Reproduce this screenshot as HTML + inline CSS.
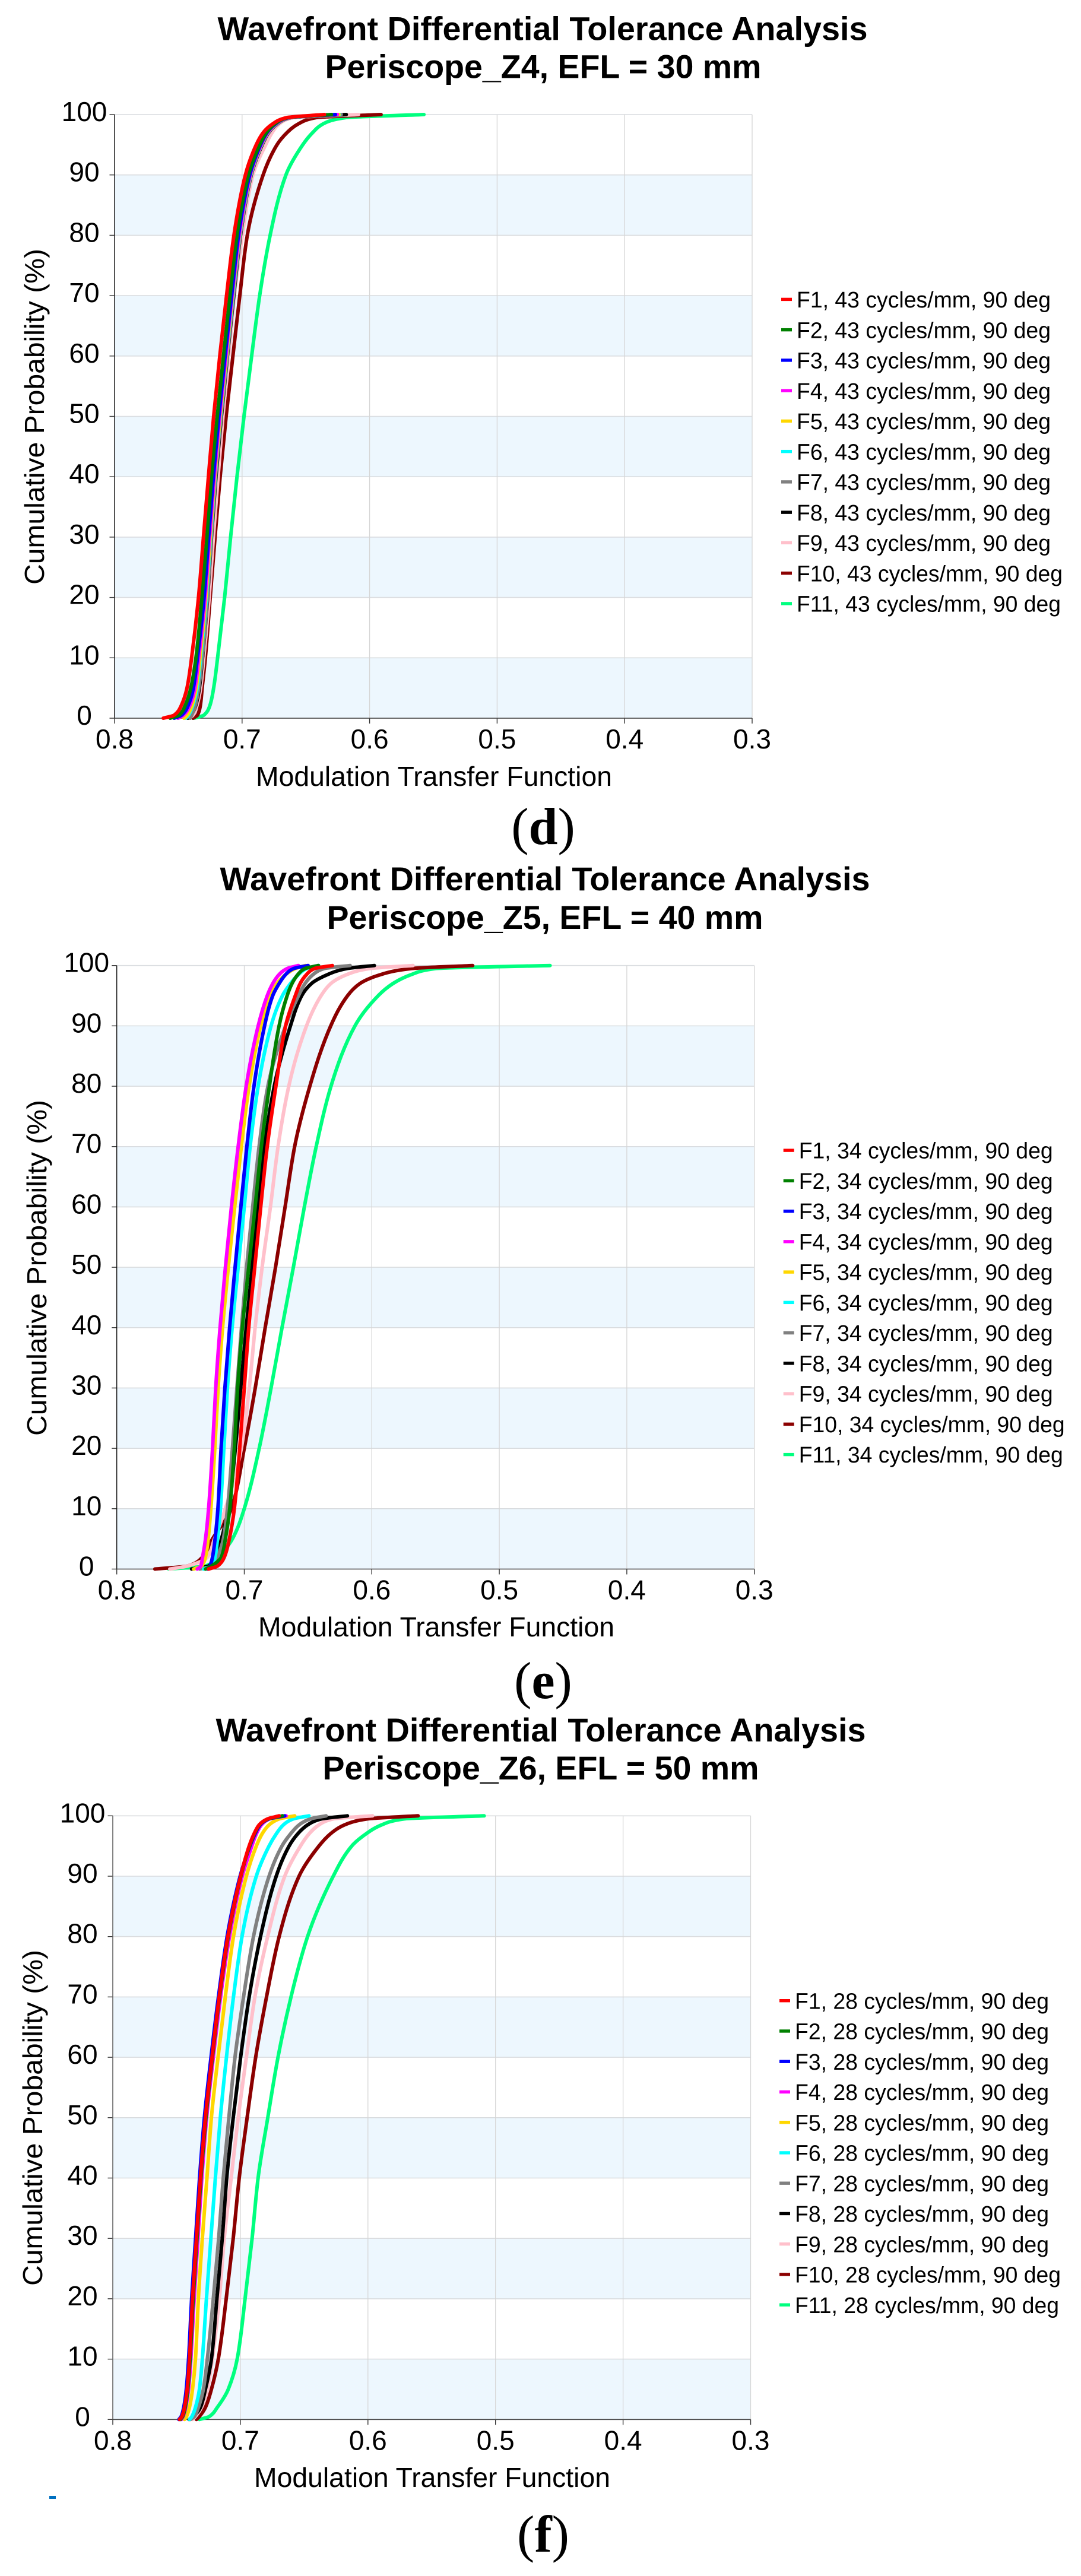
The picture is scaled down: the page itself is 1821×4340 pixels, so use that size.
<!DOCTYPE html>
<html lang="en">
<head>
<meta charset="utf-8">
<title>Wavefront Differential Tolerance Analysis</title>
<style>
html,body{margin:0;padding:0;background:#fff;}
svg{display:block;font-family:"Liberation Sans",Arial,sans-serif;}
.title{font-weight:700;font-size:56px;text-anchor:middle;fill:#000;}
.axis-title{font-size:46px;text-anchor:middle;fill:#000;}
.panel{font-family:"Liberation Serif","Times New Roman",serif;font-size:88px;text-anchor:middle;fill:#000;}
.panel tspan{font-weight:700;}
</style>
</head>
<body>
<svg id="figure" xmlns="http://www.w3.org/2000/svg" width="1821" height="4340" viewBox="0 0 1821 4340">
  <rect x="0" y="0" width="1821" height="4340" fill="#ffffff"/>

  <g id="chart-z4">
    <text class="title" x="914" y="67.5" textLength="1095" lengthAdjust="spacingAndGlyphs">Wavefront Differential Tolerance Analysis</text>
    <text class="title" x="915" y="131.5" textLength="735" lengthAdjust="spacingAndGlyphs">Periscope_Z4, EFL = 30 mm</text>
    <text class="axis-title" transform="translate(74,702) rotate(-90)" x="0" y="0" textLength="566" lengthAdjust="spacingAndGlyphs">Cumulative Probability (%)</text>
    <text class="axis-title" x="731" y="1324" textLength="600" lengthAdjust="spacingAndGlyphs">Modulation Transfer Function</text>
    <text class="panel" x="915" y="1422">(<tspan>d</tspan>)</text>
  </g>

  <g id="chart-z5">
    <text class="title" x="918" y="1500" textLength="1095" lengthAdjust="spacingAndGlyphs">Wavefront Differential Tolerance Analysis</text>
    <text class="title" x="918" y="1565" textLength="735" lengthAdjust="spacingAndGlyphs">Periscope_Z5, EFL = 40 mm</text>
    <text class="axis-title" transform="translate(78,2136) rotate(-90)" x="0" y="0" textLength="566" lengthAdjust="spacingAndGlyphs">Cumulative Probability (%)</text>
    <text class="axis-title" x="735" y="2757" textLength="600" lengthAdjust="spacingAndGlyphs">Modulation Transfer Function</text>
    <text class="panel" x="915" y="2861">(<tspan>e</tspan>)</text>
  </g>

  <g id="chart-z6">
    <text class="title" x="911" y="2934" textLength="1095" lengthAdjust="spacingAndGlyphs">Wavefront Differential Tolerance Analysis</text>
    <text class="title" x="911" y="2998" textLength="735" lengthAdjust="spacingAndGlyphs">Periscope_Z6, EFL = 50 mm</text>
    <text class="axis-title" transform="translate(71,3568) rotate(-90)" x="0" y="0" textLength="566" lengthAdjust="spacingAndGlyphs">Cumulative Probability (%)</text>
    <text class="axis-title" x="728" y="4190" textLength="600" lengthAdjust="spacingAndGlyphs">Modulation Transfer Function</text>
    <rect x="83" y="4205" width="11" height="5" fill="#0070c0"/>
    <text class="panel" x="915" y="4299">(<tspan>f</tspan>)</text>
  </g>
</svg>

<script>
// Shared axis data
const probabilityLevels = [0, 0.5, 2, 5, 10, 20, 30, 40, 50, 60, 70, 80, 90, 95, 97, 98.5, 99.5, 100];
const yTickValues = [0, 10, 20, 30, 40, 50, 60, 70, 80, 90, 100];
const xTickValues = [0.8, 0.7, 0.6, 0.5, 0.4, 0.3];
const xTickLabels = ["0.8", "0.7", "0.6", "0.5", "0.4", "0.3"];
const yTickLabels = ["0", "10", "20", "30", "40", "50", "60", "70", "80", "90", "100"];
const bandStarts = [0, 20, 40, 60, 80];
const seriesColors = ["#ff0000", "#008000", "#0000ff", "#ff00ff", "#ffd700", "#00ffff", "#808080", "#000000", "#ffc0cb", "#8b0000", "#00ff7f"];

// Periscope_Z4 legend and MTF values at probabilityLevels
const z4Legend = ["F1, 43 cycles/mm, 90 deg", "F2, 43 cycles/mm, 90 deg", "F3, 43 cycles/mm, 90 deg", "F4, 43 cycles/mm, 90 deg", "F5, 43 cycles/mm, 90 deg", "F6, 43 cycles/mm, 90 deg", "F7, 43 cycles/mm, 90 deg", "F8, 43 cycles/mm, 90 deg", "F9, 43 cycles/mm, 90 deg", "F10, 43 cycles/mm, 90 deg", "F11, 43 cycles/mm, 90 deg"];
const z4F1 = [.7618, .7533, .7479, .7432, .7396, .7342, .7303, .7264, .7223, .7175, .7122, .7064, .6974, .6889, .6835, .6757, .6648, .6354];
const z4F2 = [.7564, .7495, .7448, .7402, .7362, .7315, .7276, .7240, .7195, .7146, .7095, .7040, .6950, .6862, .6810, .6740, .6640, .6299];
const z4F3 = [.7533, .7475, .7425, .7382, .7350, .7298, .7262, .7225, .7182, .7133, .7082, .7028, .6940, .6855, .6805, .6735, .6635, .6268];
const z4F4 = [.7502, .7460, .7412, .7370, .7340, .7290, .7255, .7218, .7176, .7127, .7078, .7022, .6936, .6850, .6800, .6730, .6630, .6253];
const z4F5 = [.7455, .7430, .7395, .7360, .7330, .7284, .7250, .7214, .7172, .7123, .7075, .7020, .6934, .6848, .6798, .6728, .6628, .6240];
const z4F6 = [.7440, .7420, .7388, .7352, .7325, .7280, .7247, .7212, .7170, .7121, .7072, .7018, .6932, .6846, .6796, .6726, .6626, .6235];
const z4F7 = [.7408, .7395, .7368, .7340, .7312, .7272, .7242, .7208, .7165, .7117, .7068, .7014, .6930, .6845, .6795, .6722, .6620, .6222];
const z4F8 = [.7425, .7400, .7365, .7335, .7310, .7270, .7240, .7205, .7162, .7115, .7065, .7012, .6928, .6842, .6792, .6720, .6618, .6183];
const z4F9 = [.7415, .7385, .7355, .7325, .7300, .7258, .7225, .7188, .7150, .7105, .7060, .6998, .6915, .6815, .6765, .6705, .6600, .6087];
const z4F10 = [.7385, .7350, .7328, .7313, .7288, .7250, .7212, .7172, .7125, .7072, .7018, .6959, .6835, .6726, .6648, .6555, .6416, .5910];
const z4F11 = [.7378, .7300, .7254, .7223, .7192, .7137, .7090, .7040, .6985, .6925, .6862, .6780, .6656, .6524, .6447, .6361, .6183, .5574];

// Periscope_Z5 legend and MTF values at probabilityLevels
const z5Legend = ["F1, 34 cycles/mm, 90 deg", "F2, 34 cycles/mm, 90 deg", "F3, 34 cycles/mm, 90 deg", "F4, 34 cycles/mm, 90 deg", "F5, 34 cycles/mm, 90 deg", "F6, 34 cycles/mm, 90 deg", "F7, 34 cycles/mm, 90 deg", "F8, 34 cycles/mm, 90 deg", "F9, 34 cycles/mm, 90 deg", "F10, 34 cycles/mm, 90 deg", "F11, 34 cycles/mm, 90 deg"];
const z5F1 = [.7280, .7210, .7156, .7117, .7078, .7036, .7000, .6965, .6918, .6871, .6820, .6752, .6676, .6600, .6562, .6512, .6449, .6309];
const z5F2 = [.7304, .7257, .7179, .7148, .7114, .7078, .7052, .7015, .6965, .6915, .6866, .6803, .6727, .6664, .6626, .6580, .6524, .6418];
const z5F3 = [.7288, .7269, .7249, .7229, .7207, .7182, .7152, .7115, .7072, .7027, .6980, .6924, .6841, .6777, .6727, .6676, .6613, .6499];
const z5F4 = [.7369, .7341, .7327, .7304, .7280, .7249, .7224, .7190, .7148, .7101, .7048, .6985, .6891, .6820, .6777, .6727, .6664, .6575];
const z5F5 = [.7397, .7335, .7304, .7283, .7262, .7231, .7205, .7170, .7125, .7075, .7023, .6962, .6871, .6795, .6744, .6676, .6600, .6519];
const z5F6 = [.7319, .7257, .7229, .7210, .7187, .7160, .7132, .7095, .7048, .7000, .6954, .6891, .6790, .6701, .6638, .6575, .6512, .6418];
const z5F7 = [.7350, .7249, .7210, .7164, .7132, .7093, .7058, .7022, .6982, .6934, .6884, .6815, .6676, .6575, .6524, .6461, .6373, .6170];
const z5F8 = [.7413, .7280, .7226, .7179, .7125, .7070, .7028, .6985, .6938, .6891, .6841, .6765, .6638, .6550, .6474, .6347, .6196, .5980];
const z5F9 = [.7584, .7444, .7288, .7234, .7148, .7023, .6961, .6915, .6860, .6795, .6735, .6651, .6512, .6398, .6322, .6196, .6018, .5677];
const z5F10 = [.7701, .7444, .7327, .7249, .7101, .7000, .6914, .6836, .6755, .6680, .6605, .6486, .6322, .6190, .6094, .5930, .5690, .5209];
const z5F11 = [.7592, .7304, .7210, .7093, .7000, .6883, .6790, .6704, .6615, .6529, .6436, .6320, .6132, .5950, .5835, .5690, .5500, .4602];

// Periscope_Z6 legend and MTF values at probabilityLevels
const z6Legend = ["F1, 28 cycles/mm, 90 deg", "F2, 28 cycles/mm, 90 deg", "F3, 28 cycles/mm, 90 deg", "F4, 28 cycles/mm, 90 deg", "F5, 28 cycles/mm, 90 deg", "F6, 28 cycles/mm, 90 deg", "F7, 28 cycles/mm, 90 deg", "F8, 28 cycles/mm, 90 deg", "F9, 28 cycles/mm, 90 deg", "F10, 28 cycles/mm, 90 deg", "F11, 28 cycles/mm, 90 deg"];
const z6F1 = [.7477, .7458, .7438, .7417, .7399, .7375, .7344, .7313, .7274, .7222, .7166, .7098, .6998, .6931, .6893, .6853, .6786, .6696];
const z6F2 = [.7470, .7452, .7432, .7412, .7394, .7370, .7340, .7309, .7270, .7219, .7163, .7095, .6996, .6928, .6890, .6850, .6780, .6670];
const z6F3 = [.7482, .7464, .7444, .7424, .7406, .7382, .7351, .7320, .7282, .7230, .7172, .7104, .7002, .6925, .6885, .6845, .6775, .6652];
const z6F4 = [.7462, .7448, .7428, .7406, .7388, .7362, .7332, .7302, .7264, .7212, .7155, .7085, .6985, .6910, .6875, .6835, .6770, .6641];
const z6F5 = [.7438, .7422, .7399, .7375, .7352, .7329, .7298, .7262, .7227, .7175, .7118, .7054, .6953, .6875, .6830, .6775, .6696, .6574];
const z6F6 = [.7399, .7380, .7352, .7321, .7298, .7266, .7231, .7196, .7157, .7109, .7054, .6987, .6875, .6775, .6719, .6663, .6585, .6462];
const z6F7 = [.7391, .7360, .7329, .7290, .7259, .7212, .7170, .7134, .7090, .7042, .6975, .6897, .6775, .6674, .6607, .6540, .6451, .6328];
const z6F8 = [.7402, .7368, .7313, .7274, .7227, .7184, .7142, .7107, .7056, .6998, .6931, .6842, .6719, .6618, .6551, .6473, .6362, .6161];
const z6F9 = [.7375, .7352, .7305, .7259, .7220, .7165, .7126, .7072, .7017, .6953, .6886, .6786, .6652, .6529, .6462, .6384, .6272, .5964];
const z6F10 = [.7344, .7321, .7274, .7227, .7173, .7111, .7056, .7009, .6947, .6880, .6795, .6696, .6540, .6384, .6295, .6183, .6004, .5607];
const z6F11 = [.7321, .7243, .7181, .7095, .7025, .6963, .6908, .6861, .6785, .6705, .6603, .6473, .6272, .6127, .6016, .5893, .5714, .5089];

const SVG_NS = "http://www.w3.org/2000/svg";

function makeEl(parent, tag, attrs, content) {
  const el = document.createElementNS(SVG_NS, tag);
  for (const k in attrs) el.setAttribute(k, attrs[k]);
  if (content !== undefined) el.textContent = content;
  parent.appendChild(el);
  return el;
}

// Monotone cubic curve through the data points; m is a function of probability.
function curvePath(values, xScale, yScale) {
  const p = probabilityLevels;
  const n = values.length;
  const h = [], delta = [], d = [];
  for (let i = 0; i < n - 1; i++) {
    h[i] = p[i + 1] - p[i];
    delta[i] = (values[i + 1] - values[i]) / h[i];
  }
  d[0] = delta[0];
  d[n - 1] = delta[n - 2];
  for (let i = 1; i < n - 1; i++) {
    if (delta[i - 1] * delta[i] <= 0) { d[i] = 0; continue; }
    const w1 = 2 * h[i] + h[i - 1], w2 = h[i] + 2 * h[i - 1];
    d[i] = (w1 + w2) / (w1 / delta[i - 1] + w2 / delta[i]);
  }
  let path = "M" + xScale(values[0]).toFixed(2) + " " + yScale(p[0]).toFixed(2);
  for (let i = 0; i < n - 1; i++) {
    const c1x = xScale(values[i] + d[i] * h[i] / 3), c1y = yScale(p[i] + h[i] / 3);
    const c2x = xScale(values[i + 1] - d[i + 1] * h[i] / 3), c2y = yScale(p[i + 1] - h[i] / 3);
    path += "C" + c1x.toFixed(2) + " " + c1y.toFixed(2) + " " + c2x.toFixed(2) + " " + c2y.toFixed(2) + " " + xScale(values[i + 1]).toFixed(2) + " " + yScale(p[i + 1]).toFixed(2);
  }
  return path;
}

function drawChart(groupId, layout, legendLabels, seriesList) {
  const root = document.getElementById(groupId);
  const plot = document.createElementNS(SVG_NS, "g");
  
  
  root.appendChild(plot);

  const xScale = m => layout.x0 + (0.8 - m) / 0.5 * layout.w;
  const yScale = v => layout.yTop + (100 - v) / 100 * layout.h;

  bandStarts.forEach(start => {
    const band = makeEl(plot, "rect", {x: layout.x0, y: yScale(start + 10), width: layout.w, height: yScale(start) - yScale(start + 10), fill: "#edf7fe"});
    
    
  });

  yTickValues.forEach((v, i) => {
    const grid = makeEl(plot, "line", {x1: layout.x0, x2: layout.x0 + layout.w, y1: yScale(v), y2: yScale(v), stroke: "#d9dcdf", "stroke-width": 1.6});
    
    
    const tick = makeEl(plot, "line", {x1: layout.x0 - 8.5, x2: layout.x0, y1: yScale(v), y2: yScale(v), stroke: "#333333", "stroke-width": 1.4});
    
    
    const label = makeEl(plot, "text", {x: layout.x0 - 51, y: yScale(v) + 11, "font-size": 46, "text-anchor": "middle", fill: "#000"}, yTickLabels[i]);
    
    
  });

  xTickValues.forEach((v, i) => {
    const grid = makeEl(plot, "line", {x1: xScale(v), x2: xScale(v), y1: layout.yTop, y2: yScale(0), stroke: "#d6d6d6", "stroke-width": 1.3});
    
    
    const tick = makeEl(plot, "line", {x1: xScale(v), x2: xScale(v), y1: yScale(0), y2: yScale(0) + 9, stroke: "#333333", "stroke-width": 1.4});
    
    
    const label = makeEl(plot, "text", {x: xScale(v), y: yScale(0) + 51, "font-size": 46, "text-anchor": "middle", fill: "#000"}, xTickLabels[i]);
    
    
  });

  const yAxis = makeEl(plot, "line", {x1: layout.x0, x2: layout.x0, y1: layout.yTop, y2: yScale(0), stroke: layout.axisColor, "stroke-width": 1.4});
  
  
  const xAxis = makeEl(plot, "line", {x1: layout.x0, x2: layout.x0 + layout.w, y1: yScale(0), y2: yScale(0), stroke: "#444444", "stroke-width": 1.6});
  
  

  // F1 ends up on top, F11 at the back
  for (let s = seriesList.length - 1; s >= 0; s--) {
    const line = makeEl(plot, "path", {d: curvePath(seriesList[s], xScale, yScale), fill: "none", stroke: seriesColors[s], "stroke-width": 6, "stroke-linejoin": "round", "stroke-linecap": "round"});
    
    
  }

  legendLabels.forEach((text, i) => {
    const cy = layout.yTop + 311.4 + i * 51.25;
    const swatch = makeEl(plot, "rect", {x: layout.x0 + 1123, y: cy - 2.7, width: 18, height: 5.4, fill: seriesColors[i]});
    
    
    const widthPx = text.startsWith("F10") ? 448 : text.startsWith("F11") ? 445 : 428;
    const label = makeEl(plot, "text", {x: layout.x0 + 1149, y: cy + 13.6, "font-size": 38, fill: "#000", textLength: widthPx, lengthAdjust: "spacingAndGlyphs"}, text);
    
    
  });
}

drawChart("chart-z4", {x0: 193, w: 1074, yTop: 193, h: 1017, axisColor: "#111111"}, z4Legend, [z4F1, z4F2, z4F3, z4F4, z4F5, z4F6, z4F7, z4F8, z4F9, z4F10, z4F11]);
drawChart("chart-z5", {x0: 196.7, w: 1074, yTop: 1626.7, h: 1016.8, axisColor: "#111111"}, z5Legend, [z5F1, z5F2, z5F3, z5F4, z5F5, z5F6, z5F7, z5F8, z5F9, z5F10, z5F11]);
drawChart("chart-z6", {x0: 190, w: 1074.5, yTop: 3059.3, h: 1017, axisColor: "#555555"}, z6Legend, [z6F1, z6F2, z6F3, z6F4, z6F5, z6F6, z6F7, z6F8, z6F9, z6F10, z6F11]);
</script>
</body>
</html>
